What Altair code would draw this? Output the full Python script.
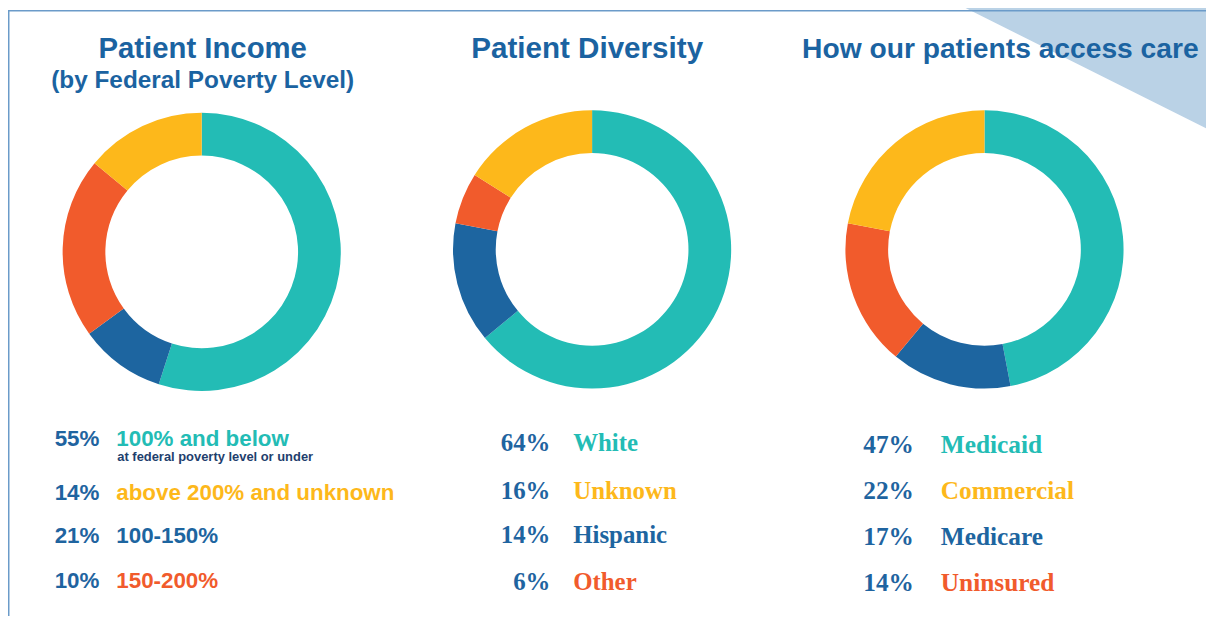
import altair as alt
import pandas as pd

# ---------------- data ----------------
titles = ["Patient Income", "Patient Diversity", "How our patients access care"]
subtitle = "(by Federal Poverty Level)"
income_note = "at federal poverty level or under"

# donut slices, clockwise from 12 o'clock, as drawn
income_slices = [55, 10, 21, 14]
diversity_slices = [64, 14, 6, 16]
access_slices = [47, 14, 17, 22]
slice_keys = ["teal", "blue", "orange", "yellow"]

# legend rows
income_pcts = ["55%", "14%", "21%", "10%"]
income_labels = ["100% and below", "above 200% and unknown", "100-150%", "150-200%"]
diversity_pcts = ["64%", "16%", "14%", "6%"]
diversity_labels = ["White", "Unknown", "Hispanic", "Other"]
access_pcts = ["47%", "22%", "17%", "14%"]
access_labels = ["Medicaid", "Commercial", "Medicare", "Uninsured"]
label_keys = ["teal", "yellow", "blue", "orange"]

# ---------------- style ----------------
PALETTE = {"teal": "#23BCB5", "blue": "#1D65A0", "orange": "#F15B2C", "yellow": "#FDB81B"}
color_scale = alt.Scale(domain=list(PALETTE.keys()), range=list(PALETTE.values()))
TITLE_BLUE = "#1B63A1"
PCT_BLUE = "#1F64A0"
NOTE_NAVY = "#1F3F6E"
W, H = 1206, 610
OUTER, INNER = 140, 97


def donut(vals, cx, cy):
    df = pd.DataFrame({"idx": list(range(len(vals))), "value": vals, "key": slice_keys})
    return alt.Chart(df).mark_arc(outerRadius=OUTER, innerRadius=INNER).encode(
        theta=alt.Theta("value:Q", stack=True),
        order=alt.Order("idx:Q"),
        color=alt.Color("key:N", scale=color_scale, legend=None),
        x=alt.value(cx),
        y=alt.value(cy),
    )


def rows(pcts, labels, pct_x, label_x, ys, font, size):
    df = pd.DataFrame({"row": list(range(len(pcts))), "pct": pcts, "label": labels, "key": label_keys})
    out = []
    for i, y in enumerate(ys):
        base = alt.Chart(df).transform_filter(alt.datum.row == i)
        out.append(base.mark_text(align="right", baseline="alphabetic", font=font,
                                  fontSize=size, fontWeight="bold", color=PCT_BLUE)
                   .encode(text="pct:N", x=alt.value(pct_x), y=alt.value(y)))
        out.append(base.mark_text(align="left", baseline="alphabetic", font=font,
                                  fontSize=size, fontWeight="bold")
                   .encode(text="label:N", x=alt.value(label_x), y=alt.value(y),
                           color=alt.Color("key:N", scale=color_scale, legend=None)))
    return out


def text_one(s, x, y, size, color, font="Liberation Sans", align="center"):
    return alt.Chart(pd.DataFrame({"t": [s]})).mark_text(
        align=align, baseline="alphabetic", font=font, fontSize=size,
        fontWeight="bold", color=color).encode(text="t:N", x=alt.value(x), y=alt.value(y))


one = pd.DataFrame({"n": [0]})
triangle = alt.Chart(one).mark_point(
    shape="M -1 -0.5 L 1 -0.5 L 1 0.5 Z", size=254 ** 2, filled=True,
    fill="#BAD2E6", opacity=1, strokeWidth=0,
).encode(x=alt.value(1079), y=alt.value(55.5))

top_rule = alt.Chart(one).mark_rule(color="#6B9BC9", strokeWidth=1.5).encode(
    x=alt.value(0), x2=alt.value(W), y=alt.value(0.75))
left_rule = alt.Chart(one).mark_rule(color="#6B9BC9", strokeWidth=1.5).encode(
    x=alt.value(0.75), y=alt.value(0), y2=alt.value(H))

layers = [triangle, top_rule, left_rule,
          text_one(titles[0], 196, 48, 29.5, TITLE_BLUE),
          text_one(subtitle, 196, 79, 24.5, TITLE_BLUE),
          text_one(titles[1], 583, 48, 29.8, TITLE_BLUE),
          text_one(titles[2], 999, 48, 28.4, TITLE_BLUE),
          donut(income_slices, 195, 243.5),
          donut(diversity_slices, 588, 241),
          donut(access_slices, 983, 241)]

layers += rows(income_pcts, income_labels, 92, 109, [439, 493, 537, 582], "Liberation Sans", 22.5)
layers.append(text_one(income_note, 110, 454, 13, NOTE_NAVY, align="left"))
layers += rows(diversity_pcts, diversity_labels, 546, 569, [444, 492, 537, 584], "Liberation Serif", 25)
layers += rows(access_pcts, access_labels, 912, 939, [446, 492, 539, 585], "Liberation Serif", 25.5)

chart = alt.layer(*layers).properties(
    width=W, height=H, padding=0,
    autosize=alt.AutoSizeParams(type="none"),
).resolve_scale(theta="independent").configure_view(stroke=None)

chart.save("out.html", embed_options={"renderer": "svg", "actions": False})
